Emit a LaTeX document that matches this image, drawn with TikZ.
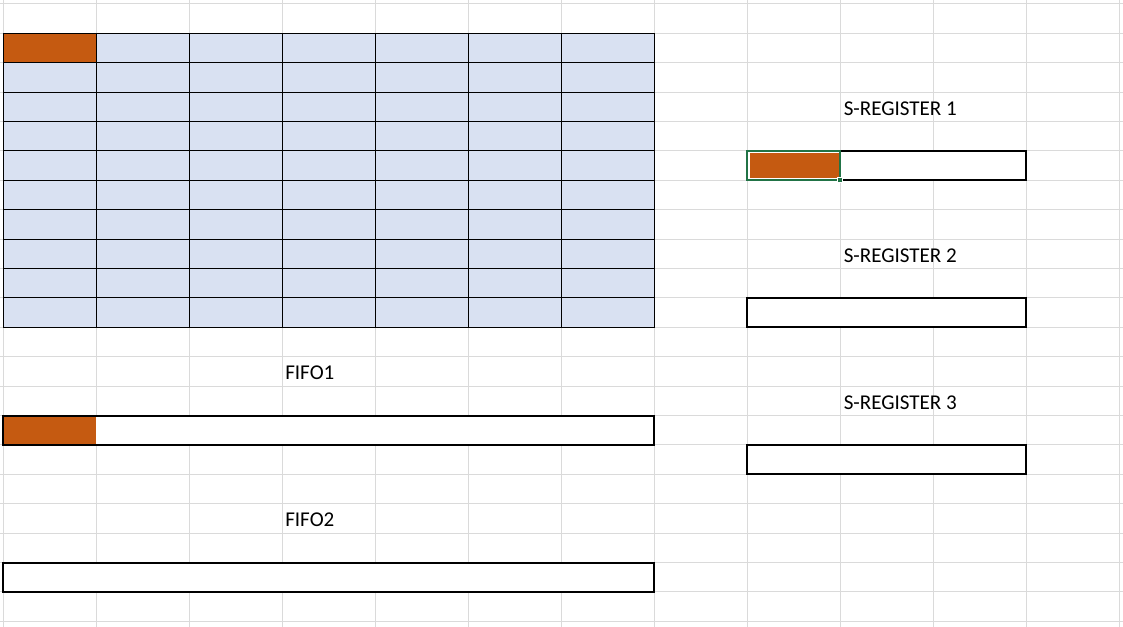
\documentclass[tikz,border=0pt]{standalone}
\usepackage{fontspec}
\setmainfont{Carlito}
\definecolor{gridgray}{HTML}{DADADA}
\definecolor{cellblue}{HTML}{D9E1F2}
\definecolor{cellorange}{HTML}{C55A11}
\definecolor{selgreen}{HTML}{217346}
\tikzset{
  sheetline/.style={gridgray, line width=0.75pt},
  cellbox/.style={draw=black, line width=0.75pt},
  regbox/.style={draw=black, line width=1.5pt},
  regtitle/.style={anchor=base west, inner sep=0pt, font=\fontsize{15.8}{18}\selectfont}
}
\begin{document}
\begin{tikzpicture}[x=0.75pt, y=-0.75pt]
    \useasboundingbox (0,0) rectangle (1123,627);

    % sheet gridlines
    \foreach \j in {0,...,12}
      \draw[sheetline] (3.3+93*\j,0) -- (3.3+93*\j,627);
    \foreach \k in {0,...,21}
      \draw[sheetline] (0,3.9+29.4*\k) -- (1123,3.9+29.4*\k);

    % memory table
    \foreach \j in {0,...,6}
      \foreach \k in {1,...,10}
        \filldraw[fill=cellblue, cellbox] (3.3+93*\j,3.9+29.4*\k) rectangle ++(93,29.4);
    \filldraw[fill=cellorange, cellbox] (3.3,33.3) rectangle (96.3,62.7);

    % fifos
    \node[regtitle] (fifoA) at (285,379.5) {FIFO1};
    \fill[white] (3.3,415.5) rectangle (654.3,444.9);
    \fill[cellorange] (3.3,415.5) rectangle (96.3,444.9);
    \draw[regbox] (3.3,415.5) rectangle (654.3,444.9);

    \node[regtitle] (fifoB) at (285,526.8) {FIFO2};
    \filldraw[fill=white, regbox] (3.3,562.5) rectangle (654.3,591.9);

    % shift registers
    \node[regtitle] (sregA) at (843.5,115.5) {S-REGISTER 1};
    \filldraw[fill=white, regbox] (747.3,150.9) rectangle (1026.3,180.3);
    \fill[cellorange] (749.5,153.1) rectangle (838.5,178.1);
    \draw[selgreen, line width=1.5pt] (747.3,150.9) rectangle (840.3,180.3);
    \filldraw[fill=selgreen, draw=white, line width=0.75pt] (837.8,177.4) rectangle ++(5,5);

    \node[regtitle] (sregB) at (843.5,262.5) {S-REGISTER 2};
    \filldraw[fill=white, regbox] (747.3,297.9) rectangle (1026.3,327.3);

    \node[regtitle] (sregC) at (843.5,409.5) {S-REGISTER 3};
    \filldraw[fill=white, regbox] (747.3,444.9) rectangle (1026.3,474.3);
  \end{tikzpicture}
\end{document}
